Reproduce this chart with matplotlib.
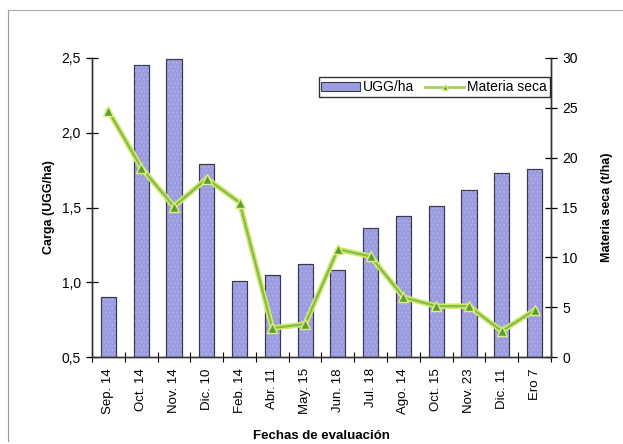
import matplotlib
matplotlib.use('Agg')
import matplotlib.pyplot as plt
from matplotlib.ticker import FuncFormatter, FixedLocator
from matplotlib.lines import Line2D
import numpy as np

plt.rcParams['font.family'] = ['Liberation Sans', 'DejaVu Sans']
plt.rcParams['hatch.color'] = '#b4b4ec'
plt.rcParams['hatch.linewidth'] = 0.6

# datos
fechas = ['Sep. 14', 'Oct. 14', 'Nov. 14', 'Dic. 10', 'Feb. 14', 'Abr. 11', 'May. 15',
          'Jun. 18', 'Jul. 18', 'Ago. 14', 'Oct. 15', 'Nov. 23', 'Dic. 11', 'Ero 7']
ugg_ha = [0.90, 2.45, 2.49, 1.79, 1.01, 1.05, 1.12, 1.08, 1.36, 1.44, 1.51, 1.62, 1.73, 1.76]
materia_seca = [24.7, 19.0, 15.1, 17.9, 15.5, 2.9, 3.3, 10.8, 10.1, 6.0, 5.1, 5.1, 2.6, 4.7]

x = np.arange(len(fechas))

fig = plt.figure(figsize=(6.23, 4.44), dpi=100)
ax = fig.add_axes([0.1477, 0.1959, 0.7367, 0.6735])

ax.bar(x, ugg_ha, width=0.46, color='#9c9ce0', edgecolor='#3a3a4a', linewidth=0.8, zorder=2)
# textura suave de las barras
ax.bar(x, ugg_ha, width=0.46, color='none', edgecolor='#b4b4ec', linewidth=0,
       hatch='....', zorder=2.1)
ax.bar(x, ugg_ha, width=0.46, color='none', edgecolor='#3a3a4a', linewidth=0.8, zorder=2.2)
ax.set_ylim(0.5, 2.5)
ax.set_xlim(-0.5, len(fechas) - 0.5)
ax.set_yticks([0.5, 1.0, 1.5, 2.0, 2.5])
ax.yaxis.set_major_formatter(FuncFormatter(lambda v, p: f'{v:.1f}'.replace('.', ',')))
ax.set_ylabel('Carga (UGG/ha)', fontsize=9, fontweight='bold', labelpad=5)

ax.set_xticks(x)
ax.set_xticklabels(fechas, rotation=90, fontsize=9.5)
ax.tick_params(axis='x', which='major', length=0, pad=8)
ax.xaxis.set_minor_locator(FixedLocator(np.arange(-0.5, len(fechas), 1.0)))
ax.tick_params(axis='x', which='minor', direction='inout', length=7, width=0.8)
ax.tick_params(axis='y', direction='inout', length=9, width=0.9, labelsize=10)
ax.set_xlabel('Fechas de evaluación', fontsize=9.5, fontweight='bold', labelpad=11)

ax2 = ax.twinx()
ax2.plot(x, materia_seca, color='#d8e670', linewidth=4, zorder=3)
ax2.plot(x, materia_seca, color='#7cbf4a', linewidth=1.6, marker='^', markersize=7,
         markerfacecolor='#5aa030', markeredgecolor='#e0ee80', markeredgewidth=1, zorder=4)
ax2.set_ylim(0, 30)
ax2.set_yticks([0, 5, 10, 15, 20, 25, 30])
ax2.tick_params(axis='y', direction='inout', length=9, width=0.9, labelsize=10)
ax2.set_ylabel('Materia seca (t/ha)', fontsize=9, fontweight='bold', labelpad=17)

for a in (ax, ax2):
    a.spines['top'].set_visible(False)
    for s in ('left', 'right', 'bottom'):
        a.spines[s].set_color('#333333')
        a.spines[s].set_linewidth(1.0)

# leyenda
h_bar = plt.Rectangle((0, 0), 1, 1, facecolor='#9c9ce0', edgecolor='#3a3a4a', linewidth=0.8)
h_line = Line2D([0], [0], color='#a8d058', linewidth=2, marker='^', markersize=4,
                markerfacecolor='#5aa030', markeredgecolor='#e0ee80')
leg = ax2.legend([h_bar, h_line], ['UGG/ha', 'Materia seca'], ncol=2, loc='upper right',
                 bbox_to_anchor=(0.997, 0.935), fontsize=10, frameon=True, fancybox=False,
                 borderpad=0.2, handlelength=2.8, handleheight=0.6, columnspacing=0.8,
                 handletextpad=0.2, borderaxespad=0)
leg.get_frame().set_edgecolor('black')
leg.get_frame().set_linewidth(1.0)

# marco exterior
fig.add_artist(Line2D([8 / 623, 8 / 623], [1 - 10 / 444, 1 - 441 / 444], transform=fig.transFigure,
                      color='#999999', linewidth=0.8))
fig.add_artist(Line2D([8 / 623, 1.0], [1 - 10 / 444, 1 - 10 / 444], transform=fig.transFigure,
                      color='#aaaaaa', linewidth=0.8))

fig.savefig('out.png', dpi=100)
